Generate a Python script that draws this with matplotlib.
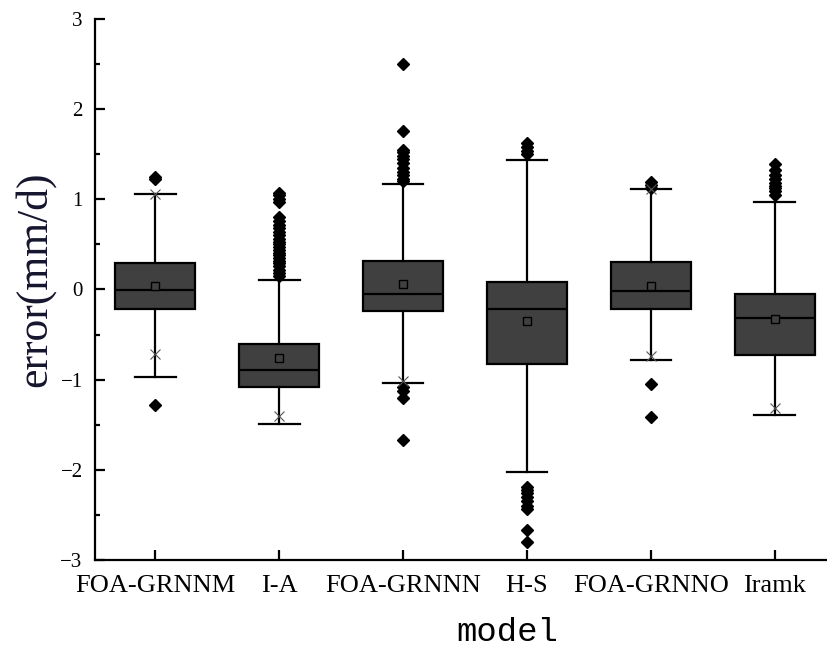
import matplotlib
matplotlib.use("Agg")
import matplotlib.pyplot as plt
from matplotlib.ticker import MultipleLocator

categories = ["FOA-GRNNM", "I-A", "FOA-GRNNN", "H-S", "FOA-GRNNO", "Iramk"]
q1 = [-0.22, -1.085, -0.24, -0.826, -0.22, -0.726]
median = [-0.005, -0.89, -0.05, -0.22, -0.017, -0.32]
q3 = [0.29, -0.604, 0.32, 0.087, 0.31, -0.047]
mean = [0.04, -0.76, 0.06, -0.35, 0.04, -0.33]
whislo = [-0.97, -1.49, -1.04, -2.02, -0.78, -1.395]
whishi = [1.06, 0.10, 1.17, 1.44, 1.11, 0.97]
pct_low = [-0.72, -1.40, -1.02, None, -0.737, -1.31]
pct_high = [1.06, None, None, None, 1.11, None]
fliers = [
    [1.25, 1.23, -1.28],
    [0.15, 0.18, 0.22, 0.26, 0.29, 0.32, 0.35, 0.38, 0.41, 0.44, 0.47, 0.50,
     0.53, 0.56, 0.60, 0.64, 0.68, 0.72, 0.76, 0.80, 0.97, 1.00, 1.05, 1.07],
    [2.50, 1.76, 1.55, 1.52, 1.48, 1.45, 1.40, 1.35, 1.30, 1.27, 1.23, 1.20,
     -1.08, -1.12, -1.20, -1.67],
    [1.62, 1.58, 1.53, 1.50, -2.19, -2.22, -2.26, -2.30, -2.35, -2.40,
     -2.43, -2.67, -2.80],
    [1.195, 1.16, 1.13, -1.05, -1.41],
    [1.39, 1.33, 1.27, 1.22, 1.18, 1.15, 1.12, 1.09, 1.05],
]

serif = ["Liberation Serif", "DejaVu Serif"]

fig = plt.figure(figsize=(8.27, 6.52), dpi=100)
ax = fig.add_axes([0.115, 0.141, 0.885, 0.830])

stats = []
for i in range(len(categories)):
    stats.append(dict(med=median[i], q1=q1[i], q3=q3[i], mean=mean[i],
                      whislo=whislo[i], whishi=whishi[i], fliers=fliers[i],
                      label=categories[i]))

positions = list(range(1, len(categories) + 1))
lw = 1.6
ax.bxp(stats, positions=positions, widths=0.645, patch_artist=True,
       showmeans=True, showfliers=True,
       boxprops=dict(facecolor="#404040", edgecolor="black", linewidth=lw),
       medianprops=dict(color="black", linewidth=lw),
       whiskerprops=dict(color="black", linewidth=lw),
       capprops=dict(color="black", linewidth=lw),
       capwidths=0.33,
       meanprops=dict(marker="s", markerfacecolor="#404040",
                      markeredgecolor="black", markersize=5.5, markeredgewidth=1),
       flierprops=dict(marker="D", markerfacecolor="black",
                       markeredgecolor="black", markersize=6))

for i, p in enumerate(positions):
    for v in (pct_low[i], pct_high[i]):
        if v is not None:
            ax.plot(p, v, marker="x", color="#555555", markersize=6.5,
                    markeredgewidth=0.8, zorder=4)

ax.set_xlim(0.516, 6.42)
ax.set_ylim(-3, 3)
ax.spines["top"].set_visible(False)
ax.spines["right"].set_visible(False)
ax.spines["left"].set_linewidth(lw)
ax.spines["bottom"].set_linewidth(lw)

ax.yaxis.set_major_locator(MultipleLocator(1))
ax.yaxis.set_minor_locator(MultipleLocator(0.5))
ax.tick_params(axis="y", which="major", direction="in", length=7, width=lw,
               labelsize=15, pad=9)
ax.tick_params(axis="y", which="minor", direction="in", length=3.5, width=lw)
ax.tick_params(axis="x", which="major", direction="in", length=7, width=lw,
               labelsize=19, pad=11)
ax.set_xticks(positions)
ax.set_xticklabels(categories)
for lab in ax.get_xticklabels() + ax.get_yticklabels():
    lab.set_family(serif)

ax.set_ylabel("error(mm/d)", family=serif, fontsize=31.5, color="#15152e")
ax.yaxis.set_label_coords(-0.054, 0.518)
ax.set_xlabel("model", family=["Liberation Mono", "DejaVu Sans Mono"],
              fontsize=24.5)
ax.xaxis.set_label_coords(0.563, -0.106)

fig.savefig("out.png", dpi=100)
